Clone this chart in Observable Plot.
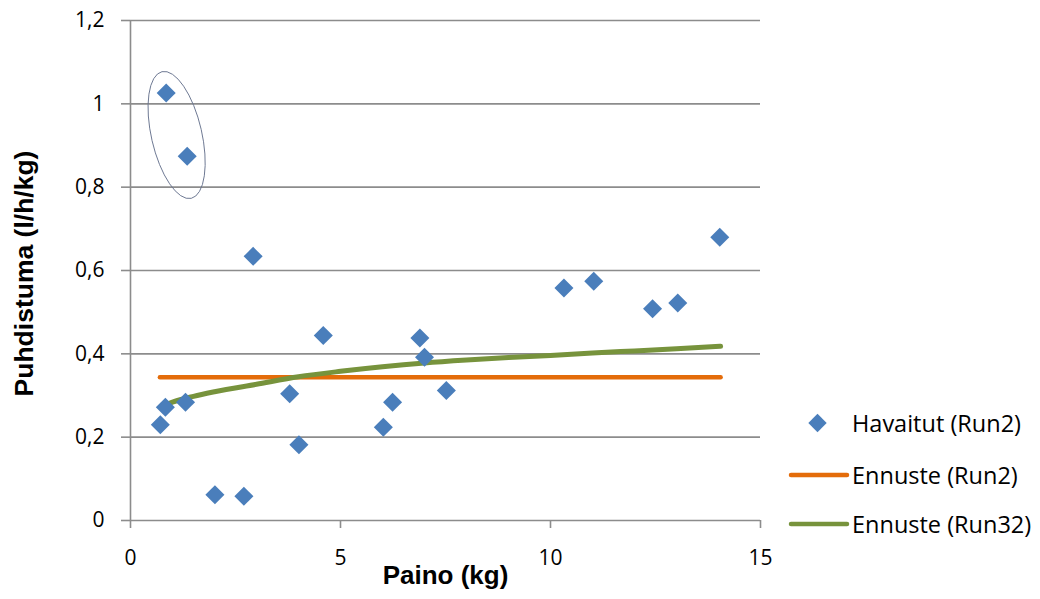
<!DOCTYPE html>
<html>
<head>
<meta charset="utf-8">
<script src="https://cdn.jsdelivr.net/npm/d3@7"></script>
<script src="https://cdn.jsdelivr.net/npm/@observablehq/plot@0.6"></script>
<style>
  html, body { margin: 0; padding: 0; background: #fff; }
  #wrap { position: relative; width: 1040px; height: 599px; font-family: "Open Sans", sans-serif; }
  .legend { position: absolute; font-size: 23.5px; color: #000; display: flex; align-items: center; }
  .legend svg { margin-right: 2px; }
</style>
</head>
<body>
<div id="wrap"></div>
<script>
// Observed (Havaitut Run2): weight (kg) and clearance (l/h/kg)
const obsWeight = [0.71, 0.83, 0.85, 1.31, 1.35, 2.01, 2.70, 2.92, 3.79, 4.01, 4.59, 6.02, 6.24, 6.89, 7.00, 7.52, 10.32, 11.03, 12.43, 13.03, 14.03];
const obsClear  = [0.230, 0.272, 1.026, 0.284, 0.874, 0.062, 0.058, 0.634, 0.304, 0.182, 0.444, 0.224, 0.284, 0.438, 0.392, 0.312, 0.558, 0.574, 0.508, 0.522, 0.680];

// Ennuste (Run2): constant prediction
const run2Weight = [0.7, 14.05];
const run2Pred   = [0.344, 0.344];

// Ennuste (Run32): curve
const run32Weight = [0.75, 1, 1.5, 2, 3, 4, 5, 6, 7, 8, 9, 10, 11, 12, 13, 14.05];
const run32Pred   = [0.274, 0.284, 0.298, 0.309, 0.327, 0.345, 0.358, 0.369, 0.378, 0.385, 0.391, 0.396, 0.402, 0.407, 0.412, 0.418];

const xTicks = [0, 5, 10, 15];
const yTicks = [0, 0.2, 0.4, 0.6, 0.8, 1.0, 1.2];

// highlight ellipse around the two outliers (data units)
const ellipseCenter = {x: 1.11, y: 0.924};
const ellipseSemi = {x: 0.6, y: 0.156};
const ellipseAngle = -13;

const obs = obsWeight.map((w, i) => ({w, c: obsClear[i]}));
const run2 = run2Weight.map((w, i) => ({w, c: run2Pred[i]}));
const run32 = run32Weight.map((w, i) => ({w, c: run32Pred[i]}));

const BLUE = "#4a7ebb", ORANGE = "#e46c0a", GREEN = "#77933c", GRID = "#8c8c8c";
const fmt = d => String(d).replace(".", ",");
const TITLE_FONT = "'Liberation Sans', Arial, sans-serif";

const chart = Plot.plot({
  width: 1040,
  height: 599,
  marginLeft: 130,
  marginRight: 280,
  marginTop: 20,
  marginBottom: 79,
  style: {fontFamily: "'Open Sans', sans-serif", fontSize: "21px", color: "#000", background: "#fff", overflow: "visible"},
  x: {domain: [0, 15], ticks: xTicks, label: null},
  y: {domain: [0, 1.2], ticks: yTicks, label: null},
  marks: [
    Plot.ruleY(yTicks.filter(d => d > 0), {stroke: GRID, strokeWidth: 1.6}),
    Plot.ruleY(yTicks, {x1: -0.214, x2: 0, stroke: GRID, strokeWidth: 1.6}),
    Plot.ruleX(xTicks, {y1: 0, y2: -0.0192, stroke: GRID, strokeWidth: 1.6}),
    Plot.ruleX([0], {y1: 0, y2: 1.2, stroke: GRID, strokeWidth: 1.6}),
    Plot.ruleY([0], {x1: 0, x2: 15, stroke: GRID, strokeWidth: 1.6}),
    Plot.axisX({ticks: xTicks, tickSize: 0, tickPadding: 30, tickFormat: fmt, fontSize: 21}),
    Plot.axisY({ticks: yTicks, tickSize: 0, tickPadding: 26, tickFormat: fmt, fontSize: 21}),
    Plot.line(run2, {x: "w", y: "c", stroke: ORANGE, strokeWidth: 4.5, strokeLinecap: "round"}),
    Plot.line(run32, {x: "w", y: "c", stroke: GREEN, strokeWidth: 5, curve: "monotone-x", strokeLinecap: "round"}),
    Plot.dot(obs, {x: "w", y: "c", symbol: "square", r: 7.6, rotate: 45, fill: BLUE, stroke: null}),
    (index, scales) => {
      const cx = scales.x(ellipseCenter.x), cy = scales.y(ellipseCenter.y);
      const rx = Math.abs(scales.x(ellipseCenter.x + ellipseSemi.x) - cx);
      const ry = Math.abs(scales.y(ellipseCenter.y + ellipseSemi.y) - cy);
      const e = document.createElementNS("http://www.w3.org/2000/svg", "ellipse");
      e.setAttribute("cx", cx); e.setAttribute("cy", cy);
      e.setAttribute("rx", rx); e.setAttribute("ry", ry);
      e.setAttribute("transform", `rotate(${ellipseAngle} ${cx} ${cy})`);
      e.setAttribute("fill", "none"); e.setAttribute("stroke", "#6a7690"); e.setAttribute("stroke-width", 0.9);
      return e;
    },
    Plot.text(["Paino (kg)"], {frameAnchor: "bottom", dy: 63, fontWeight: "bold", fontSize: 26, fontFamily: TITLE_FONT}),
    Plot.text(["Puhdistuma (l/h/kg)"], {frameAnchor: "left", textAnchor: "middle", dx: -106, dy: 3, rotate: -90, fontWeight: "bold", fontSize: 26.5, fontFamily: TITLE_FONT})
  ]
});

const wrap = document.getElementById("wrap");
wrap.appendChild(chart);

const legendItems = [
  {label: "Havaitut (Run2)", type: "diamond", color: BLUE, top: 423},
  {label: "Ennuste (Run2)", type: "line", color: ORANGE, top: 475},
  {label: "Ennuste (Run32)", type: "line", color: GREEN, top: 524}
];
for (const item of legendItems) {
  const div = document.createElement("div");
  div.className = "legend";
  div.style.top = (item.top - 16) + "px";
  div.style.left = "787px";
  div.style.height = "32px";
  const sw = item.type === "diamond"
    ? `<svg width="63" height="32"><rect x="24" y="9.5" width="13" height="13" fill="${item.color}" transform="rotate(45 30.5 16)"/></svg>`
    : `<svg width="63" height="32"><line x1="4" y1="16" x2="60" y2="16" stroke="${item.color}" stroke-width="4.5" stroke-linecap="round"/></svg>`;
  div.innerHTML = sw + `<span>${item.label}</span>`;
  wrap.appendChild(div);
}
</script>
</body>
</html>
